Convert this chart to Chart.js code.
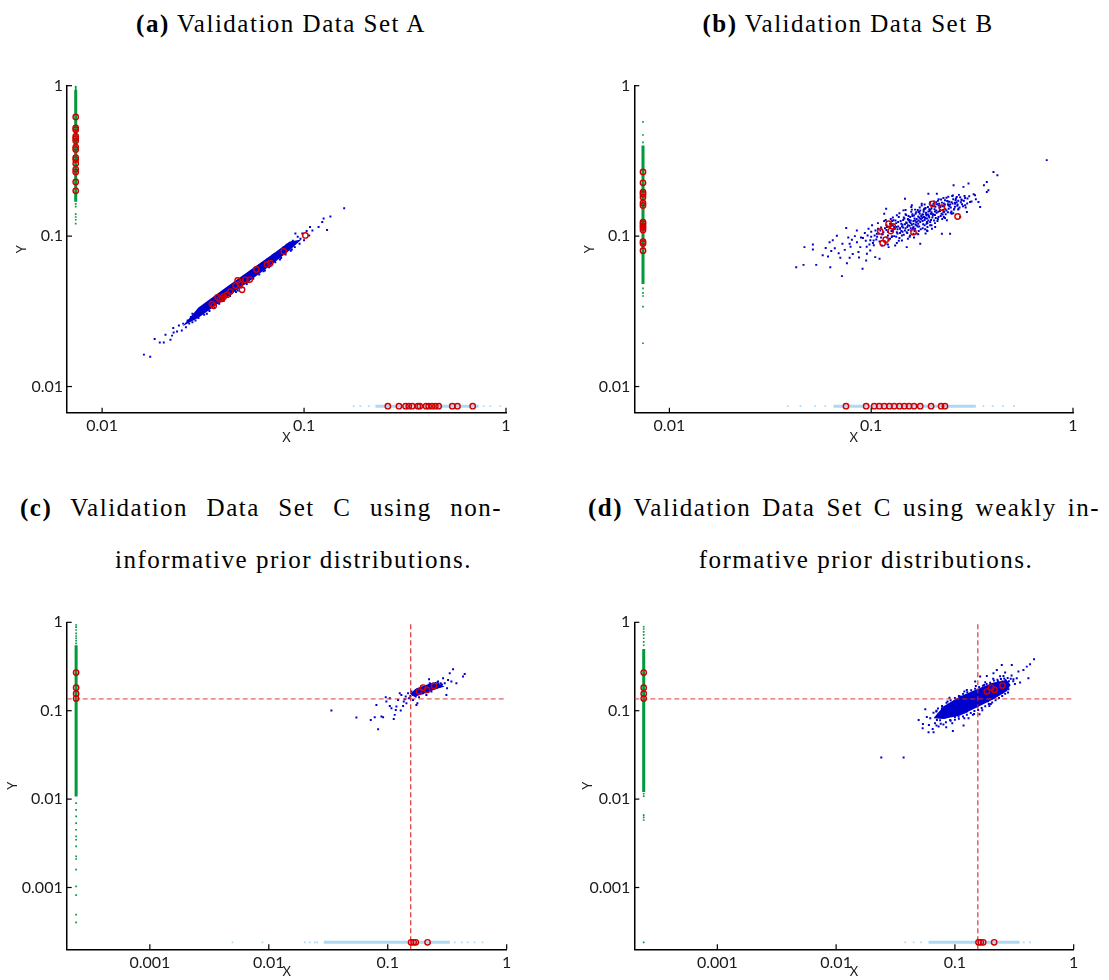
<!DOCTYPE html>
<html><head><meta charset="utf-8">
<script src="https://cdn.jsdelivr.net/npm/chart.js@4.4.1/dist/chart.umd.min.js"></script>
<style>
html,body{margin:0;padding:0;background:#fff;width:1109px;height:980px;overflow:hidden;position:relative}
canvas{position:absolute}
.t{position:absolute;font-family:"Liberation Serif",serif;font-size:25px;line-height:30px;color:#000;white-space:nowrap;letter-spacing:1.5px}
.j{text-align:justify;text-align-last:justify;white-space:normal}
</style></head><body>
<div class="t" style="left:0;top:9px;width:562px;text-align:center"><b>(a)</b> Validation Data Set A</div>
<div class="t" style="left:567px;top:9px;width:562px;text-align:center"><b>(b)</b> Validation Data Set B</div>
<div class="t j" style="left:20px;top:493px;width:482px"><b>(c)</b> Validation Data Set C using non-</div>
<div class="t" style="left:0;top:545px;width:587px;text-align:center">informative prior distributions.</div>
<div class="t j" style="left:588px;top:493px;width:512px"><b>(d)</b> Validation Data Set C using weakly in-</div>
<div class="t" style="left:590px;top:545px;width:552px;text-align:center">formative prior distributions.</div>
<canvas id="ca" width="560" height="400" style="left:0;top:60px"></canvas>
<canvas id="cb" width="542" height="400" style="left:567px;top:60px"></canvas>
<canvas id="cc" width="560" height="380" style="left:0;top:600px"></canvas>
<canvas id="cd" width="542" height="380" style="left:567px;top:600px"></canvas>
<script>
// ---------- tick values / labels ----------
const ticksAB = [0.01, 0.1, 1];
const labelsAB = ['0.01', '0.1', '1'];
const ticksCD = [0.001, 0.01, 0.1, 1];
const labelsCD = ['0.001', '0.01', '0.1', '1'];
const minAB = 0.0067;
const minCD = 0.0002;

// ---------- Panel A ----------
const aMargin = 0.0074;
const aYSolid = [0.169, 0.935];
const aYSparse = [0.99, 0.97, 0.95, 0.164, 0.157, 0.14, 0.134, 0.1285, 0.121];
const aYTrue = [0.62, 0.525, 0.51, 0.46, 0.445, 0.43, 0.39, 0.377, 0.333, 0.323, 0.304, 0.278, 0.267, 0.229, 0.20];
const aXSolid = [0.2255, 0.732];
const aXSparse = [0.176, 0.19, 0.209, 0.775, 0.836, 0.937];
const aXTrue = [0.26, 0.295, 0.318, 0.33, 0.343, 0.366, 0.374, 0.402, 0.414, 0.43, 0.447, 0.464, 0.542, 0.575, 0.684];
const aCoreLower = [[0.025,0.0252],[0.03,0.0287],[0.04,0.0378],[0.055,0.0515],[0.07,0.0655],[0.085,0.0805],[0.097,0.095]];
const aCoreUpper = [[0.025,0.0252],[0.03,0.0335],[0.04,0.0445],[0.055,0.0605],[0.07,0.076],[0.085,0.092],[0.097,0.095]];
const aCloud = [
[0.0161,0.0163],[0.0173,0.0158],[0.0182,0.0207],[0.0193,0.0196],[0.0202,0.0196],[0.0206,0.0221],[0.0222,0.0218],[0.0226,0.0229],[0.0218,0.0205],[0.0225,0.0245],
[0.0235,0.0232],[0.024,0.0255],[0.0248,0.0236],[0.0252,0.0262],[0.026,0.0248],[0.0265,0.0275],[0.027,0.0262],[0.0275,0.029],[0.028,0.0268],[0.0285,0.0298],
[0.029,0.0275],[0.0295,0.031],[0.030,0.0285],[0.031,0.0328],[0.032,0.030],[0.033,0.0345],[0.034,0.0318],[0.035,0.0372],[0.036,0.0335],[0.037,0.039],
[0.038,0.0355],[0.039,0.0415],[0.040,0.0372],[0.042,0.0445],[0.043,0.040],[0.045,0.0475],[0.046,0.0425],[0.048,0.0505],[0.049,0.0455],[0.051,0.054],
[0.052,0.048],[0.054,0.0575],[0.056,0.052],[0.058,0.061],[0.060,0.0555],[0.062,0.066],[0.064,0.059],[0.066,0.0705],[0.068,0.063],[0.070,0.0745],
[0.072,0.067],[0.075,0.079],[0.077,0.0715],[0.079,0.084],[0.081,0.0755],[0.084,0.089],[0.086,0.080],[0.088,0.093],[0.090,0.0845],[0.093,0.099],
[0.095,0.089],[0.098,0.104],[0.100,0.094],[0.103,0.108],[0.106,0.101],[0.028,0.0305],[0.033,0.0305],[0.044,0.0468],[0.047,0.0435],[0.057,0.0605],
[0.063,0.0585],[0.071,0.0755],[0.076,0.070],[0.082,0.0875],[0.087,0.0815],[0.053,0.0495],[0.067,0.062],[0.0375,0.0365],
[0.0906,0.104],[0.096,0.096],[0.107,0.115],[0.110,0.109],[0.118,0.115],[0.123,0.124],[0.125,0.131],[0.130,0.110],[0.135,0.135],[0.158,0.153]
];
const aFit = [[0.1015,0.101],[0.0793,0.079],[0.0656,0.0648],[0.068,0.066],[0.058,0.06],[0.0512,0.0512],[0.0538,0.0514],[0.0469,0.0507],[0.048,0.0482],[0.0458,0.0467],
[0.0493,0.044],[0.0431,0.0428],[0.0416,0.0408],[0.040,0.0396],[0.0382,0.038],[0.035,0.0354],[0.0357,0.0344],[0.0373,0.0392],[0.0393,0.0383]];

// ---------- Panel B ----------
const bMargin = 0.0074;
const bYSolid = [0.048, 0.40];
const bYSparse = [0.575, 0.47, 0.42, 0.38, 0.36, 0.045, 0.042, 0.04, 0.034, 0.0194];
const bYTrue = [0.267, 0.226, 0.196, 0.19, 0.181, 0.166, 0.16, 0.124, 0.121, 0.117, 0.114, 0.110, 0.092, 0.0894, 0.080];
const bXSolid = [0.065, 0.33];
const bXSparse = [0.0386, 0.0446, 0.0528, 0.0592, 0.36, 0.40, 0.45, 0.51];
const bXTrue = [0.075, 0.0944, 0.1035, 0.1096, 0.116, 0.123, 0.130, 0.138, 0.146, 0.154, 0.163, 0.175, 0.198, 0.222, 0.232];
const bCloud = [
[0.0425,0.0622],[0.0462,0.0644],[0.0467,0.0845],[0.0514,0.088],[0.0514,0.0815],[0.0534,0.0644],[0.0627,0.0622],[0.0622,0.0912],[0.0611,0.0733],[0.0634,0.0795],
[0.0676,0.1006],[0.0703,0.0717],[0.0716,0.0542],[0.0752,0.1131],[0.0758,0.0661],[0.0782,0.0717],[0.0782,0.0889],[0.0802,0.0946],[0.0849,0.109],[0.0865,0.0783],
[0.0883,0.0845],[0.0906,0.0606],[0.0944,0.0689],[0.0952,0.0763],[0.0989,0.0803],[0.1028,0.0936],[0.1047,0.0725],[0.1067,0.1036],[0.110,0.0707],[0.111,0.109],
[0.113,0.0867],[0.116,0.141],[0.1186,0.1522],[0.1197,0.1148],[0.122,0.0845],[0.1265,0.0986],[0.129,0.1273],[0.1315,0.0867],[0.134,0.1374],[0.139,0.112],
[0.142,0.0936],[0.1445,0.1483],[0.147,0.1774],[0.150,0.0845],[0.153,0.1273],[0.156,0.134],[0.159,0.1602],[0.162,0.1036],[0.168,0.1178],[0.1715,0.1446],
[0.175,0.0889],[0.178,0.1643],[0.1815,0.134],[0.185,0.1522],[0.189,0.109],[0.192,0.1915],[0.196,0.124],[0.1995,0.141],[0.2035,0.1643],[0.2075,0.1148],
[0.2115,0.1915],[0.2155,0.134],[0.22,0.1562],[0.224,0.1036],[0.228,0.1446],[0.232,0.173],[0.237,0.1273],[0.2415,0.1602],[0.246,0.1036],[0.2505,0.141],
[0.256,0.218],[0.2605,0.1643],[0.2655,0.182],[0.2705,0.1522],[0.276,0.134],[0.281,0.173],[0.2865,0.2125],[0.292,0.1602],[0.298,0.1446],[0.3035,0.2235],
[0.309,0.1686],[0.327,0.1867],[0.340,0.1686],[0.3465,0.1562],[0.362,0.218],[0.374,0.229],[0.374,0.1965],[0.381,0.2017],[0.4035,0.267],[0.422,0.254],[0.741,0.32],
[0.112,0.098],[0.115,0.106],[0.117,0.092],[0.119,0.11],[0.121,0.101],[0.123,0.115],[0.124,0.096],[0.126,0.108],[0.128,0.118],[0.13,0.1],
[0.131,0.112],[0.133,0.122],[0.135,0.104],[0.136,0.116],[0.138,0.097],[0.14,0.126],[0.141,0.108],[0.143,0.119],[0.145,0.102],[0.146,0.131],
[0.148,0.113],[0.15,0.122],[0.151,0.105],[0.153,0.136],[0.155,0.117],[0.157,0.127],[0.158,0.109],[0.16,0.14],[0.162,0.121],[0.164,0.131],
[0.165,0.112],[0.167,0.144],[0.169,0.125],[0.171,0.135],[0.173,0.116],[0.175,0.148],[0.177,0.129],[0.179,0.139],[0.181,0.12],[0.183,0.152],
[0.185,0.132],[0.187,0.143],[0.189,0.124],[0.191,0.156],[0.193,0.136],[0.195,0.147],[0.198,0.128],[0.2,0.16],[0.203,0.14],[0.206,0.151],
[0.209,0.132],[0.212,0.163],[0.215,0.145],[0.218,0.155],[0.221,0.136],[0.224,0.167],[0.227,0.149],[0.23,0.158],[0.234,0.14],[0.238,0.171],
[0.242,0.152],[0.246,0.162],[0.25,0.146],[0.255,0.176],[0.26,0.157],[0.265,0.168],[0.27,0.15],[0.276,0.181],[0.282,0.163],[0.288,0.172],
[0.294,0.155],[0.3,0.178],[0.106,0.095],[0.109,0.104],[0.102,0.09],[0.098,0.088],[0.094,0.093],[0.1,0.099],[0.127,0.126],[0.148,0.14],
[0.159,0.15],[0.134,0.09],[0.152,0.096],[0.172,0.108],[0.19,0.115],[0.207,0.122],[0.225,0.13],[0.178,0.16],[0.196,0.168],[0.214,0.172],
[0.163,0.098],[0.186,0.104],
[0.091,0.097],[0.093,0.105],[0.095,0.085],[0.097,0.112],[0.099,0.094],[0.101,0.118],[0.103,0.087],[0.105,0.109],[0.107,0.099],[0.108,0.122],
[0.11,0.092],[0.112,0.114],[0.114,0.103],[0.116,0.126],[0.118,0.089],[0.119,0.118],[0.121,0.107],[0.122,0.094],
[0.125,0.13],[0.127,0.1],[0.129,0.111],[0.132,0.127],[0.134,0.106],[0.137,0.134],[0.139,0.113],[0.142,0.101],[0.144,0.128],[0.147,0.109],
[0.149,0.138],[0.152,0.118],[0.154,0.128],[0.156,0.101],[0.158,0.145],[0.161,0.113],[0.163,0.137],[0.166,0.119],[0.168,0.104],[0.17,0.149],
[0.172,0.127],[0.174,0.141],[0.176,0.111],[0.179,0.132],[0.182,0.145],[0.184,0.118],[0.186,0.154],[0.188,0.137],[0.19,0.108],[0.192,0.127],
[0.194,0.151],[0.197,0.141],[0.199,0.118],[0.201,0.133],[0.126,0.117],[0.133,0.115],[0.141,0.121],[0.149,0.123],[0.157,0.122],[0.165,0.127],
[0.173,0.133],[0.181,0.139],[0.189,0.131],[0.197,0.15],[0.144,0.114],[0.153,0.11],[0.162,0.115],[0.171,0.121],[0.18,0.126],[0.188,0.121],
[0.204,0.158],[0.207,0.138],[0.21,0.168],[0.213,0.126],[0.216,0.16],[0.219,0.147],[0.222,0.175],[0.226,0.139],[0.229,0.165],[0.233,0.151],
[0.236,0.18],[0.24,0.144],[0.244,0.169],[0.248,0.155],[0.252,0.185],[0.257,0.15],[0.262,0.174],[0.267,0.159],[0.272,0.188],[0.278,0.168],
[0.285,0.158],[0.292,0.179],[0.299,0.165],[0.306,0.184],[0.314,0.17],[0.322,0.19],[0.33,0.176],[0.21,0.148],[0.22,0.158],[0.23,0.145],
[0.24,0.163],[0.25,0.168],[0.26,0.167],[0.27,0.172],[0.232,0.132],[0.255,0.142],
[0.066,0.083],[0.069,0.077],[0.072,0.089],[0.074,0.081],[0.077,0.098],[0.079,0.085],[0.081,0.076],[0.083,0.1],[0.085,0.091],[0.087,0.072],
[0.089,0.098],[0.0575,0.0745],[0.0595,0.0835],[0.0645,0.094],
[0.113,0.103],[0.117,0.113],[0.12,0.098],[0.124,0.121],[0.127,0.108],[0.13,0.115],[0.133,0.099],[0.136,0.124],[0.139,0.105],[0.142,0.116],
[0.145,0.133],[0.147,0.12],[0.15,0.106],[0.152,0.13],[0.155,0.124],[0.157,0.113],[0.16,0.136],[0.162,0.126],[0.164,0.108],[0.166,0.141],
[0.168,0.13],[0.17,0.116],[0.173,0.145],[0.175,0.124],[0.177,0.136],[0.18,0.113],[0.182,0.149],[0.184,0.128],[0.187,0.14],[0.19,0.122],
[0.192,0.146],[0.194,0.133],[0.196,0.118],[0.199,0.153],[0.202,0.137],[0.205,0.127],[0.208,0.157],[0.211,0.143],[0.214,0.13],[0.217,0.164],
[0.22,0.149],[0.223,0.141],[0.226,0.158],[0.229,0.134],[0.232,0.162],[0.236,0.148],[0.24,0.17],[0.244,0.158],[0.248,0.143],[0.253,0.165],
[0.258,0.152],[0.263,0.178],[0.268,0.162],[0.274,0.155],[0.28,0.175],[0.118,0.128],[0.128,0.133],[0.138,0.142],[0.148,0.149],[0.158,0.156],
[0.135,0.111],[0.143,0.107],[0.151,0.115],[0.159,0.119],[0.167,0.123],[0.175,0.131],[0.183,0.134],[0.191,0.139],[0.199,0.144],[0.207,0.146],
[0.108,0.112],[0.104,0.101],[0.1,0.107],[0.096,0.101],[0.121,0.088],[0.137,0.093],[0.155,0.099],[0.171,0.103],[0.185,0.111],[0.2,0.112],
[0.165,0.15],[0.174,0.155],[0.184,0.162],[0.195,0.164],[0.205,0.17],[0.216,0.176],[0.228,0.179],[0.241,0.183],[0.254,0.186],[0.29,0.185]
];
const bFit = [[0.201,0.164],[0.224,0.1546],[0.268,0.135],[0.122,0.1209],[0.128,0.116],[0.111,0.1075],[0.125,0.108],[0.162,0.1063],[0.118,0.0946],[0.114,0.0898]];

// ---------- Panel C ----------
const cMargin = 0.00024;
const cRefX = 0.156;
const cRefY = 0.136;
const cYSolid = [0.0107, 0.55];
const cYSparse = [0.932, 0.88, 0.818, 0.751, 0.70, 0.66, 0.62, 0.579, 0.009, 0.00757, 0.00637, 0.00536, 0.0045, 0.00378, 0.00347, 0.00292, 0.00225, 0.0021, 0.00159, 0.00103, 0.00082, 0.000493, 0.000403];
const cYTrue = [0.27, 0.182, 0.156, 0.137];
const cXSolid = [0.029, 0.332];
const cXSparse = [0.00495, 0.00885, 0.0201, 0.0221, 0.0244, 0.0255, 0.366, 0.419, 0.47, 0.538, 0.628];
const cXTrue = [0.157, 0.165, 0.172, 0.216];
const cCoreLower = [[0.153,0.155],[0.1741,0.147],[0.1981,0.1548],[0.2403,0.1718],[0.3013,0.1874]];
const cCoreUpper = [[0.153,0.155],[0.1741,0.1794],[0.1981,0.1906],[0.2403,0.2079],[0.3013,0.1874]];
const cCloud = [
[0.0336,0.1003],[0.0545,0.0837],[0.072,0.0787],[0.0777,0.0844],[0.083,0.0617],[0.0885,0.0859],[0.0914,0.0844],[0.0803,0.1163],[0.0962,0.142],[0.0974,0.1269],
[0.104,0.1383],[0.104,0.1133],[0.1074,0.1066],[0.1123,0.0808],[0.1145,0.0897],[0.1168,0.1021],[0.1183,0.1113],[0.1221,0.1325],[0.1261,0.1575],[0.1286,0.1003],
[0.1302,0.1509],[0.1346,0.1133],[0.1363,0.1269],[0.139,0.1348],[0.1416,0.1444],[0.1435,0.1215],[0.1482,0.1575],[0.1511,0.1383],[0.155,0.147],[0.158,0.1645],
[0.1632,0.1325],[0.1741,0.1163],[0.1775,0.1215],[0.3112,0.1509],[0.3214,0.2229],[0.3319,0.265],[0.3428,0.2134],[0.354,0.294],[0.4296,0.243],[0.4436,0.2606],
[0.3776,0.2044],[0.2917,0.2328],[0.2825,0.1956],[0.2648,0.2134],[0.2564,0.1874],[0.2403,0.1794],[0.2254,0.2044],[0.2183,0.1718],[0.2046,0.1874],[0.1981,0.1645],
[0.1918,0.1794],[0.1857,0.1575],[0.1798,0.1718],[0.1686,0.1645],[0.1632,0.1509],[0.1719,0.1444],[0.1833,0.142],[0.2113,0.1509],[0.2328,0.1645],[0.2482,0.1956],
[0.2735,0.1874],[0.2225,0.2268],[0.3013,0.2044],[0.3152,0.1794],
[0.16,0.155],[0.165,0.16],[0.17,0.152],[0.175,0.165],[0.18,0.158],[0.185,0.168],[0.19,0.162],[0.195,0.172],[0.2,0.166],[0.205,0.176],
[0.21,0.17],[0.215,0.18],[0.22,0.174],[0.225,0.184],[0.23,0.178],[0.235,0.188],[0.24,0.182],[0.245,0.192],[0.25,0.185],[0.255,0.196],
[0.26,0.19],[0.266,0.2],[0.272,0.194],[0.278,0.204],[0.285,0.198],[0.168,0.148],[0.178,0.152],[0.188,0.155],[0.198,0.158],[0.208,0.162],
[0.218,0.166],[0.228,0.17],[0.238,0.175],[0.248,0.178],[0.258,0.182],[0.172,0.17],[0.182,0.175],[0.192,0.18],[0.202,0.185],[0.212,0.19],
[0.222,0.195],[0.232,0.198],[0.242,0.202],[0.252,0.206],[0.262,0.21],[0.19,0.168],[0.21,0.178],[0.23,0.186],[0.25,0.192],[0.27,0.188]
];
const cFit = [[0.1833,0.1645],[0.1981,0.1826],[0.214,0.1718],[0.245,0.1906]];

// ---------- Panel D ----------
const dMargin = 0.00024;
const dRefX = 0.156;
const dRefY = 0.136;
const dYSolid = [0.012, 0.50];
const dYSparse = [0.89, 0.84, 0.78, 0.72, 0.66, 0.60, 0.55, 0.0115, 0.0108, 0.0066, 0.0062, 0.0058, 0.00024];
const dYTrue = [0.27, 0.182, 0.156, 0.137];
const dXSolid = [0.06, 0.35];
const dXSparse = [0.0382, 0.045, 0.052, 0.38, 0.43];
const dXTrue = [0.158, 0.165, 0.173, 0.214];
const dCoreLower = [[0.066,0.0822],[0.0802,0.0805],[0.1108,0.0885],[0.153,0.109],[0.2112,0.135],[0.2733,0.1665],[0.295,0.1956]];
const dCoreUpper = [[0.066,0.0822],[0.0802,0.112],[0.1108,0.146],[0.153,0.175],[0.2112,0.208],[0.2733,0.222],[0.295,0.1956]];
const dCloud = [
[0.024,0.0295],[0.037,0.0295],[0.0495,0.0787],[0.0538,0.0709],[0.0535,0.0634],[0.0563,0.1039],[0.06,0.0571],[0.0604,0.0691],[0.0661,0.0571],[0.0697,0.0978],
[0.0706,0.0787],[0.0729,0.0662],[0.0777,0.1066],[0.0802,0.0859],[0.0845,0.065],[0.0867,0.1269],[0.0913,0.0787],[0.0961,0.0591],[0.1006,0.1113],[0.1073,0.0859],
[0.1108,0.1444],[0.1182,0.0679],[0.1197,0.0953],[0.126,0.1718],[0.1302,0.0822],[0.1345,0.1215],[0.1416,0.0897],[0.1482,0.2134],[0.153,0.1509],[0.161,0.0912],
[0.1632,0.243],[0.1685,0.1325],[0.1763,0.1956],[0.1856,0.2472],[0.1917,0.1383],[0.2005,0.1193],[0.2112,0.265],[0.2182,0.1509],[0.2253,0.2891],[0.2371,0.1874],
[0.2481,0.3293],[0.2563,0.2472],[0.2647,0.2697],[0.2733,0.2044],[0.2823,0.1748],[0.3011,0.3293],[0.311,0.2268],[0.3317,0.2328],[0.3425,0.2768],[0.3537,0.2079],
[0.3773,0.2891],[0.4025,0.3152],[0.4156,0.2328],[0.4292,0.335],[0.4637,0.3816],
[0.062,0.082],[0.068,0.072],[0.072,0.09],[0.075,0.078],[0.078,0.095],[0.082,0.083],[0.086,0.1],[0.09,0.088],[0.094,0.106],[0.098,0.093],
[0.102,0.112],[0.106,0.099],[0.11,0.118],[0.114,0.104],[0.118,0.125],[0.122,0.109],[0.126,0.132],[0.13,0.114],[0.135,0.14],[0.14,0.12],
[0.145,0.147],[0.15,0.126],[0.155,0.155],[0.16,0.132],[0.166,0.163],[0.172,0.138],[0.178,0.171],[0.184,0.145],[0.19,0.18],[0.197,0.152],
[0.204,0.189],[0.211,0.159],[0.218,0.198],[0.226,0.167],[0.234,0.207],[0.242,0.176],[0.25,0.214],[0.258,0.186],[0.266,0.222],[0.275,0.196],
[0.285,0.215],[0.07,0.1],[0.08,0.07],[0.095,0.12],[0.1,0.085],[0.115,0.135],[0.125,0.097],[0.14,0.16],[0.155,0.112],[0.17,0.178],
[0.19,0.128],[0.2,0.2],[0.215,0.14],[0.23,0.215],[0.25,0.16],[0.065,0.062],[0.058,0.085],
[0.07,0.068],[0.076,0.071],[0.084,0.074],[0.092,0.077],[0.1,0.079],[0.108,0.081],[0.117,0.086],[0.126,0.09],[0.136,0.094],[0.146,0.099],
[0.157,0.102],[0.168,0.107],[0.18,0.112],[0.193,0.119],[0.206,0.124],[0.22,0.131],[0.235,0.139],[0.25,0.147],[0.265,0.155],[0.28,0.161],
[0.095,0.072],[0.12,0.082],[0.145,0.092],[0.17,0.101],[0.195,0.113],
[0.066,0.095],[0.072,0.106],[0.078,0.113],[0.085,0.123],[0.092,0.131],[0.1,0.139],[0.108,0.147],[0.117,0.155],[0.127,0.162],[0.137,0.17],
[0.148,0.177],[0.16,0.185],[0.172,0.192],[0.185,0.2],[0.198,0.207],[0.213,0.219],[0.228,0.224],[0.244,0.228],[0.26,0.232],[0.278,0.235],
[0.295,0.23],[0.31,0.215],[0.32,0.2],[0.09,0.14],[0.12,0.165],[0.15,0.19],[0.18,0.21],[0.21,0.23],[0.24,0.245],[0.3,0.25]
];
const dFit = [[0.1856,0.1645],[0.2018,0.1826],[0.2153,0.1718],[0.2513,0.1923]];

// ---------- drawing ----------
const RED = '#d10000', BLUE = '#0000cc', GREEN = '#00993d', LIGHT = '#aed8f3';
Chart.defaults.font.family = 'Lato';

function pts(arr){ return arr.map(p => ({x:p[0], y:p[1]})); }
function atX(x, ys){ return ys.map(y => ({x:x, y:y})); }
function atY(y, xs){ return xs.map(x => ({x:x, y:y})); }

const inwardTicks = {
  id: 'inwardTicks',
  afterDatasetsDraw(chart){
    const {ctx, chartArea:a, scales:{x, y}} = chart;
    ctx.save();
    ctx.strokeStyle = '#000'; ctx.lineWidth = 1.2;
    x.ticks.forEach(t => { const p = x.getPixelForValue(t.value); ctx.beginPath(); ctx.moveTo(p, a.bottom); ctx.lineTo(p, a.bottom - 5); ctx.stroke(); });
    y.ticks.forEach(t => { const p = y.getPixelForValue(t.value); ctx.beginPath(); ctx.moveTo(a.left, p); ctx.lineTo(a.left + 5, p); ctx.stroke(); });
    ctx.restore();
  }
};

function panel(id, P){
  const ds = [];
  const circ = {type:'scatter', pointStyle:'circle', pointRadius:2.7, borderColor:RED, borderWidth:1.4, backgroundColor:'rgba(0,0,0,0)', order:0};
  ds.push(Object.assign({}, circ, {data: pts(P.fit)}));
  ds.push(Object.assign({}, circ, {data: atX(P.margin, P.yTrue)}));
  ds.push(Object.assign({}, circ, {data: atY(P.margin, P.xTrue)}));
  if (P.refX) {
    ds.push({type:'line', data:[{x:P.min, y:P.refY}, {x:1, y:P.refY}], borderColor:'rgba(215,50,50,0.75)', borderDash:[5,3], borderWidth:1.3, pointRadius:0, order:1});
    ds.push({type:'line', data:[{x:P.refX, y:P.min}, {x:P.refX, y:1}], borderColor:'#d82020', borderDash:[5,3], borderWidth:1.1, pointRadius:0, order:1});
  }
  ds.push({type:'scatter', data: pts(P.cloud), pointStyle:'rect', pointRadius:1.4, borderWidth:0, backgroundColor:BLUE, order:2});
  if (P.coreLower) {
    ds.push({type:'line', data: pts(P.coreLower), borderWidth:0, borderColor:'rgba(0,0,0,0)', pointRadius:0, fill:false, order:3});
    ds.push({type:'line', data: pts(P.coreUpper), borderWidth:0, borderColor:'rgba(0,0,0,0)', pointRadius:0, fill:'-1', backgroundColor:BLUE, order:3});
  }
  ds.push({type:'line', data: atX(P.margin, P.ySolid), borderColor:GREEN, borderWidth:3, pointRadius:0, order:4});
  ds.push({type:'scatter', data: atX(P.margin, P.ySparse), pointStyle:'rect', pointRadius:1.2, borderWidth:0, backgroundColor:GREEN, order:4});
  ds.push({type:'line', data: atY(P.margin, P.xSolid), borderColor:LIGHT, borderWidth:3, pointRadius:0, order:4});
  ds.push({type:'scatter', data: atY(P.margin, P.xSparse), pointStyle:'rect', pointRadius:1.2, borderWidth:0, backgroundColor:LIGHT, order:4});

  const tickFont = {family:'Lato', size:16};
  const titleFont = {family:'Lato', size:13};
  new Chart(document.getElementById(id), {
    type:'scatter',
    data:{datasets: ds},
    plugins:[inwardTicks],
    options:{
      animation:false, responsive:false, events:[],
      layout:{padding:{left:0, right:P.padR, top:P.padT, bottom:0}},
      plugins:{legend:{display:false}, tooltip:{enabled:false}},
      scales:{
        x:{type:'logarithmic', position:'bottom', min:P.min, max:1,
           afterBuildTicks: s => { s.ticks = P.ticks.map(v => ({value:v})); },
           afterFit: s => { s.height = P.xH; },
           grid:{display:false, drawTicks:false}, border:{display:true, color:'#000', width:1.5},
           ticks:{autoSkip:false, maxRotation:0, padding:4, color:'#1a1a1a', font:tickFont, callback:(v,i) => P.labels[i]},
           title:{display:true, text:'X', color:'#1a1a1a', font:titleFont, padding:{top:0, bottom:P.xTP}}},
        y:{type:'logarithmic', position:'left', min:P.min, max:1,
           afterBuildTicks: s => { s.ticks = P.ticks.map(v => ({value:v})); },
           afterFit: s => { s.width = P.yW; },
           grid:{display:false, drawTicks:false}, border:{display:true, color:'#000', width:1.5},
           ticks:{autoSkip:false, padding:4, color:'#1a1a1a', font:tickFont, callback:(v,i) => P.labels[i]},
           title:{display:true, text:'Y', color:'#1a1a1a', font:titleFont, padding:{top:P.yTP, bottom:0}}}
      }
    }
  });
}

panel('ca', {margin:aMargin, ySolid:aYSolid, ySparse:aYSparse, yTrue:aYTrue, xSolid:aXSolid, xSparse:aXSparse, xTrue:aXTrue,
  cloud:aCloud, fit:aFit, coreLower:aCoreLower, coreUpper:aCoreUpper, min:minAB, ticks:ticksAB, labels:labelsAB,
  padR:54, padT:25.7, xH:47.3, yW:67, xTP:14.7, yTP:14.2});
panel('cb', {margin:bMargin, ySolid:bYSolid, ySparse:bYSparse, yTrue:bYTrue, xSolid:bXSolid, xSparse:bXSparse, xTrue:bXTrue,
  cloud:bCloud, fit:bFit, min:minAB, ticks:ticksAB, labels:labelsAB,
  padR:36, padT:25.7, xH:47.3, yW:67.3, xTP:14.7, yTP:15.2});
panel('cc', {margin:cMargin, ySolid:cYSolid, ySparse:cYSparse, yTrue:cYTrue, xSolid:cXSolid, xSparse:cXSparse, xTrue:cXTrue,
  cloud:cCloud, fit:cFit, coreLower:cCoreLower, coreUpper:cCoreUpper, refX:cRefX, refY:cRefY, min:minCD, ticks:ticksCD, labels:labelsCD,
  padR:53.3, padT:22.3, xH:30.7, yW:66.7, xTP:0, yTP:5.2});
panel('cd', {margin:dMargin, ySolid:dYSolid, ySparse:dYSparse, yTrue:dYTrue, xSolid:dXSolid, xSparse:dXSparse, xTrue:dXTrue,
  cloud:dCloud, fit:dFit, coreLower:dCoreLower, coreUpper:dCoreUpper, refX:dRefX, refY:dRefY, min:minCD, ticks:ticksCD, labels:labelsCD,
  padR:35.3, padT:22.3, xH:30.7, yW:67.3, xTP:0, yTP:13.2});
</script>
</body></html>
